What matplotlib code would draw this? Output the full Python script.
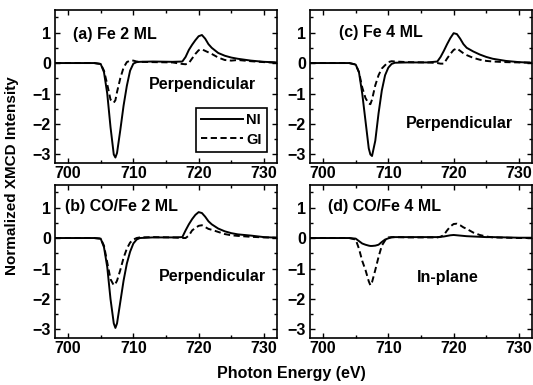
import matplotlib
matplotlib.use("Agg")
import matplotlib.pyplot as plt
from matplotlib.ticker import MultipleLocator

plt.rcParams['font.family'] = ['Liberation Sans', 'DejaVu Sans']
plt.rcParams['font.weight'] = 'bold'

# photon energy grid (eV), shared by all curves
energy = [698, 702, 704, 705, 705.5, 706, 706.5, 707, 707.25, 707.5,
          708, 708.5, 709, 709.5, 710, 710.5, 711, 713, 716, 717.5,
          718, 718.5, 719, 719.5, 720, 720.5, 721, 721.5, 722, 723,
          724, 725, 726, 728, 730, 732]

# (a) Fe 2 ML
a_ni = [0, 0, 0, -0.03, -0.3, -1.0, -2.1, -3.0, -3.1, -2.95,
        -2.2, -1.4, -0.75, -0.25, -0.02, 0.03, 0.04, 0.05, 0.04, 0.05,
        0.2, 0.43, 0.6, 0.75, 0.88, 0.92, 0.8, 0.62, 0.5, 0.33,
        0.24, 0.18, 0.14, 0.08, 0.04, 0.02]
a_gi = [0, 0, 0, -0.03, -0.25, -0.7, -1.2, -1.3, -1.22, -0.95,
        -0.5, -0.15, 0.03, 0.08, 0.08, 0.05, 0.04, 0.03, 0.02, -0.03,
        -0.04, 0.0, 0.15, 0.3, 0.42, 0.45, 0.4, 0.35, 0.3, 0.18,
        0.1, 0.08, 0.1, 0.06, 0.03, 0.01]

# (b) CO/Fe 2 ML
b_ni = [0, 0, 0, -0.02, -0.3, -0.95, -2.0, -2.8, -2.95, -2.8,
        -2.1, -1.4, -0.84, -0.45, -0.18, -0.05, 0.0, 0.02, 0.02, 0.03,
        0.25, 0.45, 0.62, 0.76, 0.85, 0.82, 0.7, 0.55, 0.45, 0.31,
        0.22, 0.16, 0.12, 0.08, 0.03, 0.01]
b_gi = [0, 0, 0, -0.02, -0.25, -0.8, -1.35, -1.55, -1.5, -1.4,
        -1.05, -0.65, -0.35, -0.15, -0.05, 0.0, 0.02, 0.03, 0.02, 0.0,
        0.0, 0.08, 0.25, 0.33, 0.4, 0.42, 0.36, 0.3, 0.27, 0.2,
        0.13, 0.09, 0.07, 0.04, 0.02, 0.01]

# (c) Fe 4 ML
c_ni = [0, 0, 0, -0.05, -0.3, -1.0, -1.9, -2.8, -3.0, -3.05,
        -2.55, -1.65, -0.9, -0.4, -0.15, -0.03, 0.01, 0.02, 0.02, 0.05,
        0.2, 0.4, 0.62, 0.82, 0.98, 0.95, 0.8, 0.62, 0.5, 0.38,
        0.28, 0.2, 0.14, 0.07, 0.03, 0.01]
c_gi = [0, 0, 0, -0.05, -0.3, -0.8, -1.15, -1.33, -1.35, -1.2,
        -0.73, -0.4, -0.18, -0.07, 0.03, 0.06, 0.05, 0.03, 0.02, 0.0,
        -0.02, -0.02, 0.15, 0.3, 0.43, 0.48, 0.4, 0.32, 0.26, 0.17,
        0.11, 0.07, 0.05, 0.03, 0.02, 0.01]

# (d) CO/Fe 4 ML
d_ni = [0, 0, 0, -0.02, -0.1, -0.18, -0.22, -0.25, -0.26, -0.26,
        -0.25, -0.22, -0.13, -0.05, -0.01, 0.02, 0.03, 0.03, 0.03, 0.03,
        0.04, 0.05, 0.07, 0.09, 0.1, 0.09, 0.08, 0.07, 0.06, 0.05,
        0.04, 0.03, 0.03, 0.02, 0.01, 0.01]
d_gi = [0, 0, 0, -0.05, -0.35, -0.75, -1.05, -1.42, -1.55, -1.45,
        -1.05, -0.62, -0.25, -0.08, 0.02, 0.03, 0.03, 0.02, 0.02, 0.02,
        0.04, 0.1, 0.25, 0.38, 0.46, 0.47, 0.42, 0.35, 0.3, 0.18,
        0.1, 0.05, 0.02, 0.01, 0.0, 0.0]

panels = [
    ("(a) Fe 2 ML", a_ni, a_gi, "Perpendicular", (0.425, 0.51)),
    ("(b) CO/Fe 2 ML", b_ni, b_gi, "Perpendicular", (0.47, 0.40)),
    ("(c) Fe 4 ML", c_ni, c_gi, "Perpendicular", (0.43, 0.255)),
    ("(d) CO/Fe 4 ML", d_ni, d_gi, "In-plane", (0.483, 0.397)),
]
title_pos = [(0.08, 0.84), (0.045, 0.86), (0.132, 0.85), (0.082, 0.86)]

fig = plt.figure(figsize=(5.33, 3.85), dpi=100)
rects = [[0.1032, 0.5766, 0.4165, 0.3974],
         [0.1032, 0.1221, 0.4165, 0.3974],
         [0.5816, 0.5766, 0.4165, 0.3974],
         [0.5816, 0.1221, 0.4165, 0.3974]]

fs = 11.5
for i, (title, ni, gi, mode, mpos) in enumerate(panels):
    ax = fig.add_axes(rects[i])
    ax.plot(energy, ni, color='black', lw=1.4, label='NI')
    ax.plot(energy, gi, color='black', lw=1.4, ls=(0, (3.2, 1.8)), label='GI')
    ax.set_xlim(698, 732)
    ax.set_ylim(-3.28, 1.74)
    ax.xaxis.set_major_locator(MultipleLocator(10))
    ax.xaxis.set_minor_locator(MultipleLocator(5))
    ax.yaxis.set_major_locator(MultipleLocator(1))
    ax.yaxis.set_minor_locator(MultipleLocator(0.5))
    ax.tick_params(which='both', direction='in', top=True, right=True,
                   width=1.0, labelsize=fs)
    ax.tick_params(which='major', length=3.5)
    ax.tick_params(which='minor', length=2)
    ax.tick_params(axis='x', pad=2)
    ax.tick_params(axis='y', pad=3)
    for s in ax.spines.values():
        s.set_linewidth(1.2)
    ax.text(title_pos[i][0], title_pos[i][1], title, transform=ax.transAxes,
            fontsize=fs, va='center', ha='left')
    ax.text(mpos[0], mpos[1], mode, transform=ax.transAxes,
            fontsize=fs, va='center', ha='left')
    if i == 0:
        leg = ax.legend(loc='lower right', bbox_to_anchor=(0.954, 0.074),
                        fontsize=fs - 1, handlelength=2.9, handletextpad=0.2,
                        borderpad=0.35, labelspacing=0.35, fancybox=False,
                        framealpha=1, borderaxespad=0)
        leg.get_frame().set_edgecolor('black')
        leg.get_frame().set_linewidth(1.2)

fig.text(0.0225, 0.545, "Normalized XMCD Intensity", rotation=90,
         ha='center', va='center', fontsize=11)
fig.text(0.546, 0.031, "Photon Energy (eV)", ha='center', va='center',
         fontsize=11.5)

fig.savefig("out.png", dpi=100)
